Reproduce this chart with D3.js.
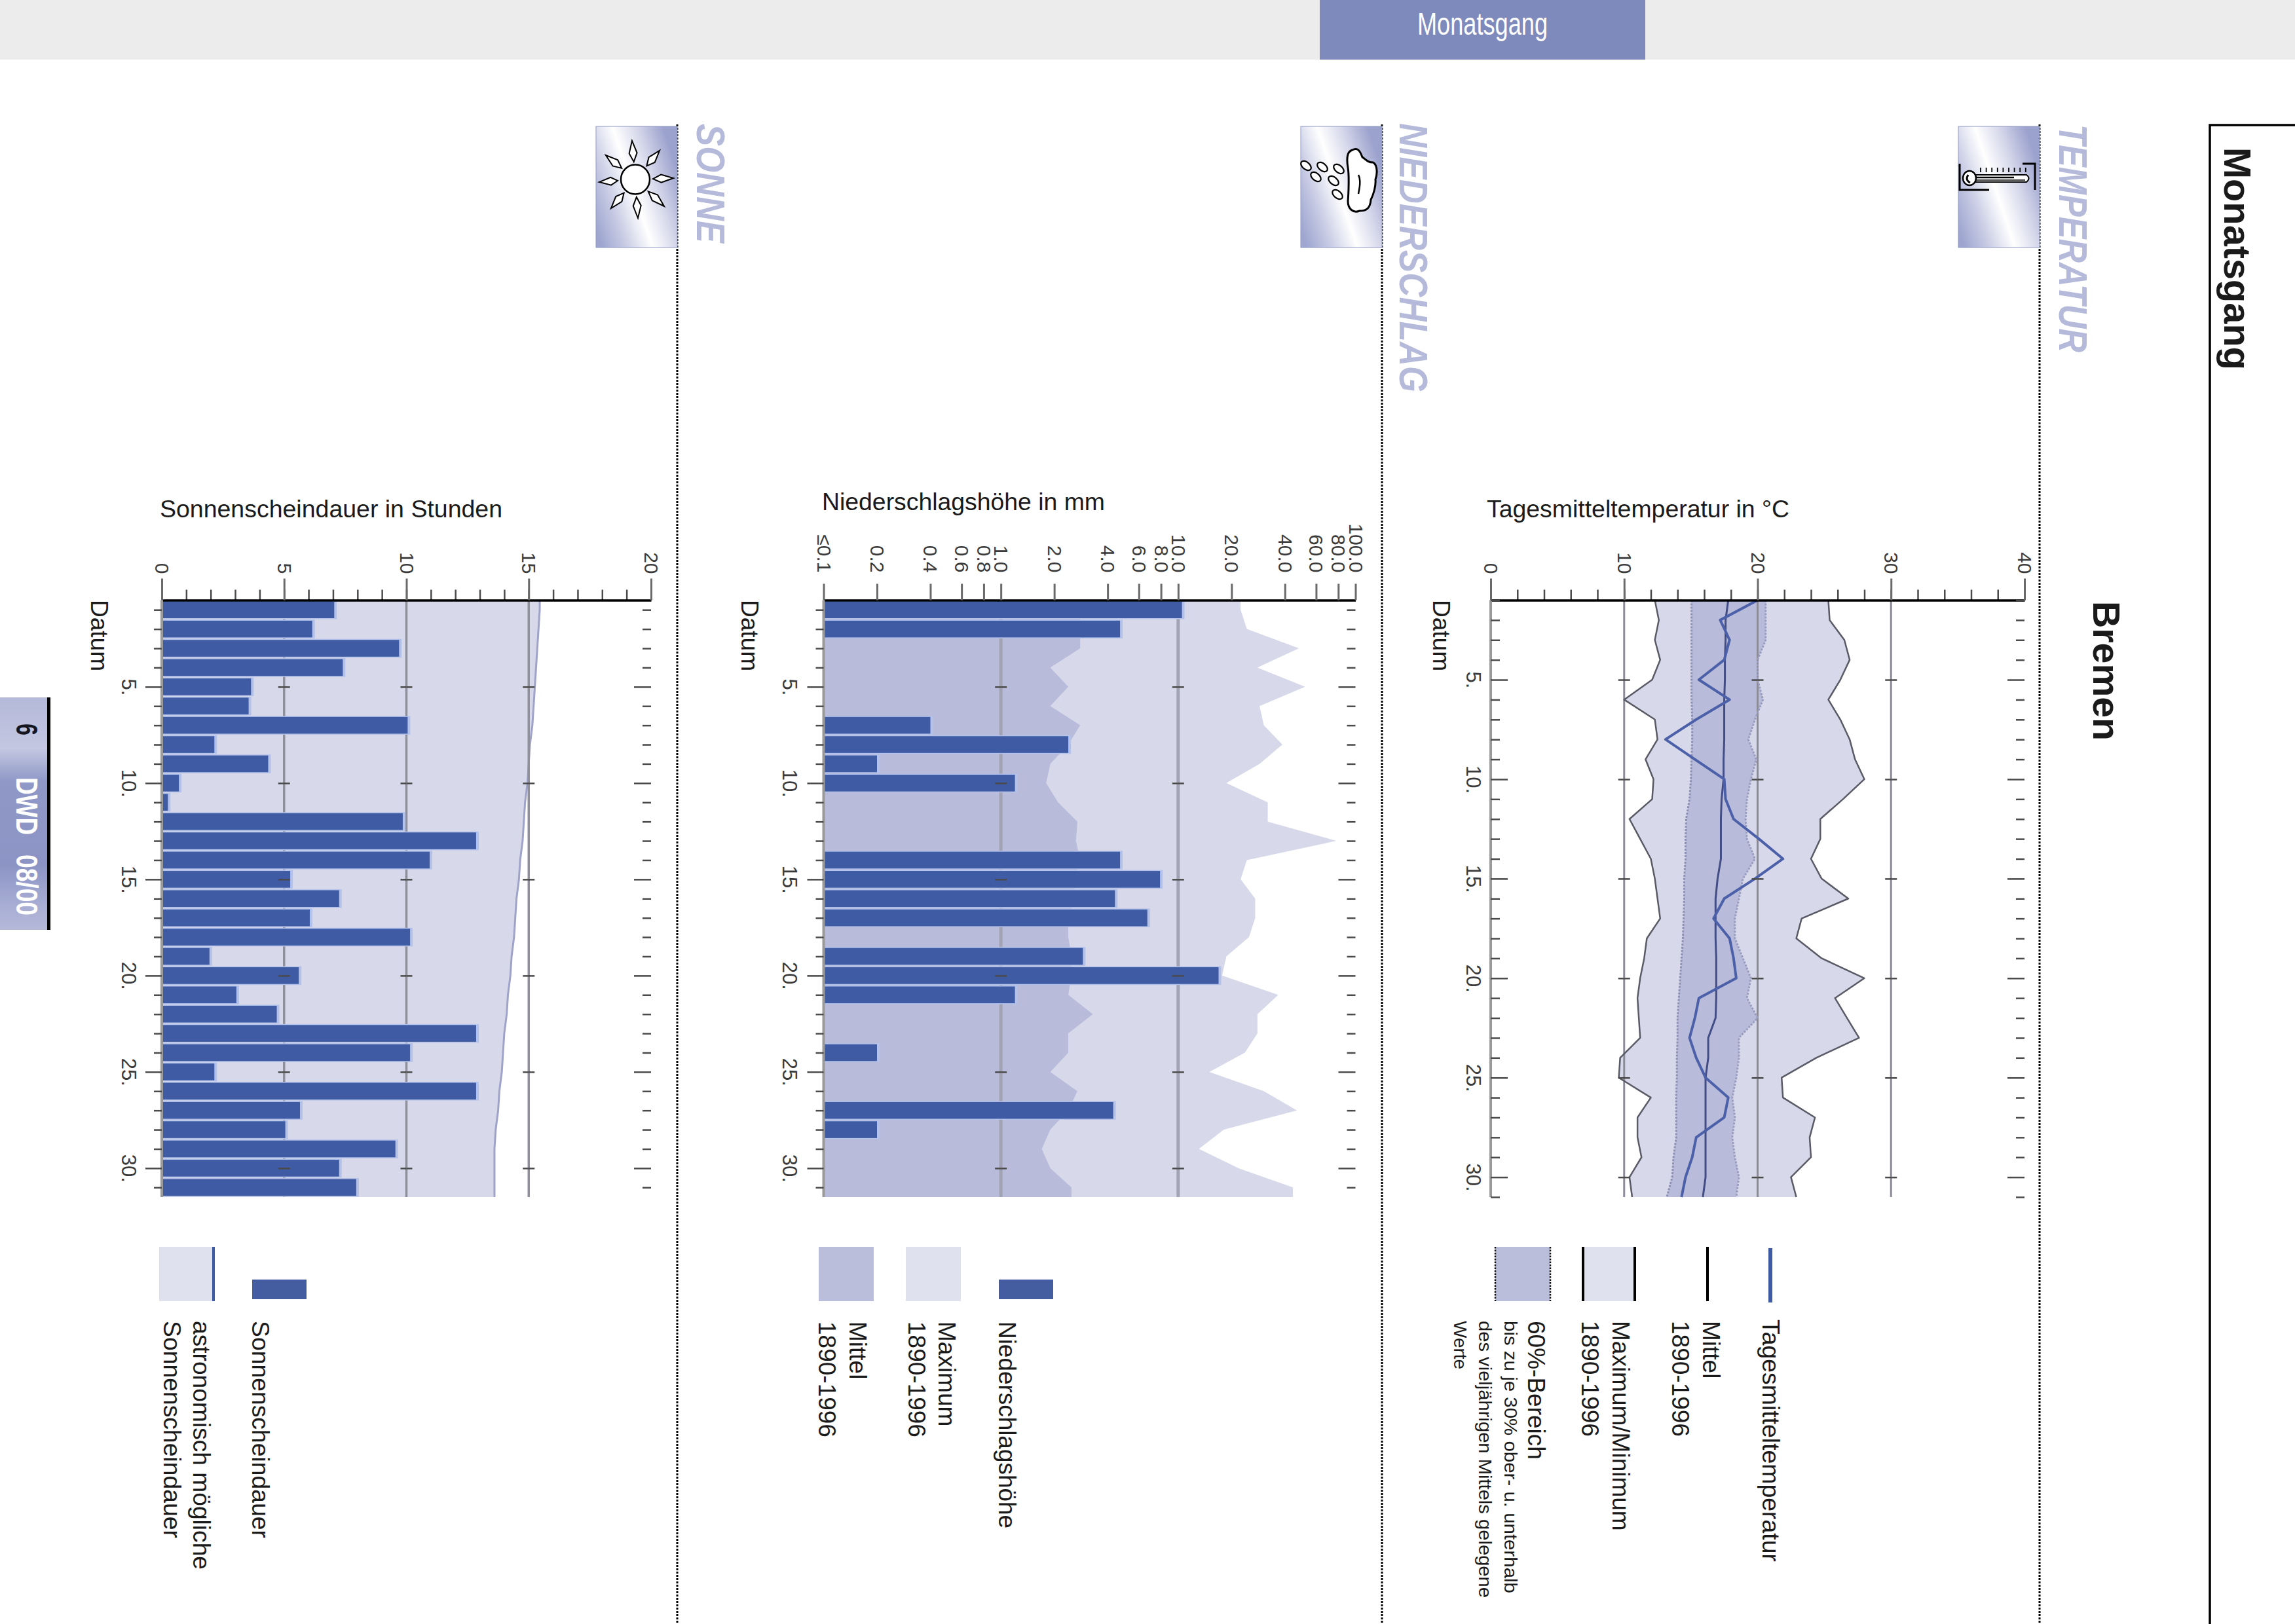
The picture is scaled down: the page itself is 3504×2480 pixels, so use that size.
<!DOCTYPE html>
<html>
<head>
<meta charset="utf-8">
<style>
  body { margin: 0; background: #fff; }
  svg { display: block; font-family: "Liberation Sans", Arial, sans-serif; }
</style>
<script src="https://cdn.jsdelivr.net/npm/d3@7"></script>
</head>
<body>
<div id="d3-container"></div>
<script>
const days = d3.range(1, 32);
const majorDays = [5, 10, 15, 20, 25, 30];

// temperature, degrees C per day
const tempMax = [25.3,25.4,26.5,26.9,26.2,25.3,26.2,26.9,27.3,28.0,26.4,24.7,24.7,24.0,24.8,26.8,23.3,22.9,24.8,28.0,25.8,26.7,27.6,24.4,21.8,21.9,24.3,23.9,24.0,22.5,22.9];
const tempMin = [12.3,12.6,12.3,12.7,12.1,10.0,12.3,12.5,11.6,12.2,12.1,10.4,11.2,12.0,12.3,12.5,12.7,11.7,11.5,11.2,11.0,11.1,11.2,9.7,9.6,12.0,11.0,11.0,11.3,10.4,10.6];
const tempMean = [17.8,17.6,17.6,17.55,17.55,17.5,17.5,17.5,17.45,17.45,17.3,17.25,17.25,17.25,17.0,16.85,16.85,16.85,16.9,16.9,16.9,16.85,16.3,16.3,16.1,16.1,16.1,16.1,16.1,16.1,15.9];
const tempDay = [20.0,17.2,17.9,17.5,15.6,17.9,15.4,13.1,15.3,17.5,17.6,18.2,20.1,21.9,19.8,17.5,16.7,17.9,18.2,18.4,15.6,15.3,14.9,15.4,16.1,17.8,17.5,15.4,15.1,14.6,14.3];
const tempBandLow = [15.05,15.05,15.05,15.05,15.05,15.05,15.1,15.1,15.05,15.0,14.9,14.65,14.6,14.6,14.5,14.5,14.45,14.4,14.3,14.2,14.1,14.0,14.0,13.95,13.95,13.9,13.9,13.9,13.7,13.6,13.2];
const tempBandHigh = [20.6,20.6,20.6,20.0,20.0,20.4,19.8,19.3,19.9,19.5,19.2,19.1,19.2,19.8,18.9,18.6,18.3,18.3,18.9,19.5,19.2,20.0,18.6,18.6,18.4,18.1,18.3,18.1,18.3,18.6,18.4];
const tempTicks = [0, 10, 20, 30, 40];
const tempMinorTicks = d3.range(0, 41, 2);
const tempGrid = [10, 20, 30];

// precipitation, mm per day
const rainMax = [22.5,24.4,48,28,52,28.8,30.4,38.7,28.8,18.7,32,32,78,24.4,22.5,27.2,27.2,25.1,18.7,17.7,36.7,28,28,23.8,15,30.4,46.8,18.1,13.1,21.9,44.4];
const rainMean = [2.8,2.8,2.8,1.9,2.4,1.9,2.8,2.4,1.9,1.8,2.1,2.7,2.65,2.8,2.6,2.6,2.4,2.4,2.5,2.5,2.4,3.3,2.4,2.4,1.9,2.7,2.4,1.9,1.7,1.9,2.5];
const rainDays = [1, 2, 7, 8, 9, 10, 14, 15, 16, 17, 19, 20, 21, 24, 27, 28];
const rainValues = [10.5, 4.7, 0.4, 2.4, 0.2, 1.2, 4.7, 7.9, 4.4, 6.7, 2.9, 16.9, 1.2, 0.2, 4.3, 0.2];
const rainTicks = [0.1, 0.2, 0.4, 0.6, 0.8, 1, 2, 4, 6, 8, 10, 20, 40, 60, 80, 100];
const rainGrid = [1, 10];

// sunshine, hours per day
const sunHours = [7.05,6.15,9.7,7.4,3.65,3.55,10.05,2.15,4.35,0.7,0.25,9.85,12.85,10.95,5.25,7.25,6.05,10.15,1.95,5.6,3.05,4.7,12.85,10.15,2.15,12.85,5.65,5.05,9.55,7.25,7.95];
const sunPossible = [15.45,15.4,15.35,15.3,15.25,15.2,15.15,15.05,15.0,14.95,14.85,14.8,14.75,14.65,14.6,14.5,14.45,14.4,14.3,14.25,14.15,14.1,14.0,13.95,13.9,13.8,13.75,13.65,13.6,13.6,13.6];
const sunTicks = [0, 5, 10, 15, 20];
const sunMinorTicks = d3.range(0, 21);
const sunGrid = [5, 10, 15];

const width = 3504;
const height = 2480;
const plotTop = 916.5;
const plotBottom = 1828;

const cBar = '#3e5ba4';
const cHalo = '#b4c2ea';
const cLight = '#d7d9ea';
const cDark = '#b8bcda';
const cLegLight = '#e0e1ef';
const cLegDark = '#bbbedb';
const cHead = '#b5bada';
const cText = '#1a1a1a';
const cTick = '#4a4a4a';

const svg = d3.select('#d3-container')
    .append('svg')
    .attr('width', width)
    .attr('height', height)
    .attr('viewBox', [0, 0, width, height]);

const defs = svg.append('defs');

const iconGrad = defs.append('linearGradient')
    .attr('id', 'iconGrad')
    .attr('x1', 0).attr('y1', 0.85)
    .attr('x2', 1).attr('y2', 0.35);
[[0, '#9ea6d0'], [0.22, '#c4c8e2'], [0.5, '#ffffff'], [0.72, '#d8daec'], [1, '#9ba2cd']]
    .forEach(s => iconGrad.append('stop').attr('offset', s[0]).attr('stop-color', s[1]));

const tabGrad = defs.append('linearGradient')
    .attr('id', 'tabGrad')
    .attr('x1', 0).attr('y1', 0)
    .attr('x2', 0).attr('y2', 1);
[[0, '#b4b9d9'], [0.22, '#c3c7e1'], [0.36, '#8f98c7'], [0.72, '#8c94c5'], [0.9, '#a8aed4'], [1, '#b5bad9']]
    .forEach(s => tabGrad.append('stop').attr('offset', s[0]).attr('stop-color', s[1]));

function vtext(x, y, str, size, opts = {}) {
    const t = svg.append('text')
        .attr('transform', `translate(${x},${y}) rotate(90)`)
        .attr('font-size', size)
        .attr('fill', opts.fill || cText)
        .attr('font-weight', opts.weight || 'normal')
        .attr('font-style', opts.style || 'normal')
        .text(str);
    if (opts.len) t.attr('textLength', opts.len).attr('lengthAdjust', 'spacingAndGlyphs');
    return t;
}

function htext(x, y, str, size, len) {
    return svg.append('text')
        .attr('x', x).attr('y', y)
        .attr('font-size', size)
        .attr('fill', cText)
        .attr('textLength', len)
        .attr('lengthAdjust', 'spacingAndGlyphs')
        .text(str);
}

// page furniture
svg.append('rect').attr('width', width).attr('height', 91).attr('fill', '#ececec');
svg.append('rect').attr('x', 2015).attr('width', 497).attr('height', 91).attr('fill', '#7e89bc');
svg.append('text')
    .attr('x', 2164).attr('y', 53)
    .attr('font-size', 48).attr('fill', '#fff')
    .attr('textLength', 199).attr('lengthAdjust', 'spacingAndGlyphs')
    .text('Monatsgang');

svg.append('path')
    .attr('d', `M3504,191H3374V${height}`)
    .attr('fill', 'none').attr('stroke', '#000').attr('stroke-width', 3.5);
vtext(3396, 225, 'Monatsgang', 58, { weight: 'bold', len: 340 });
vtext(3196, 918, 'Bremen', 58, { weight: 'bold', len: 213 });

[3114, 2110, 1034].forEach(x => {
    svg.append('line')
        .attr('x1', x).attr('x2', x)
        .attr('y1', 190).attr('y2', height)
        .attr('stroke', '#000')
        .attr('stroke-width', 3)
        .attr('stroke-dasharray', '3 2');
});

vtext(3144, 190, 'TEMPERATUR', 62, { weight: 'bold', style: 'italic', fill: cHead, len: 348 });
vtext(2137, 188, 'NIEDERSCHLAG', 62, { weight: 'bold', style: 'italic', fill: cHead, len: 411 });
vtext(1064, 189, 'SONNE', 62, { weight: 'bold', style: 'italic', fill: cHead, len: 182 });

svg.append('rect').attr('x', 0).attr('y', 1065).attr('width', 72).attr('height', 355).attr('fill', 'url(#tabGrad)');
svg.append('rect').attr('x', 72).attr('y', 1065).attr('width', 5).attr('height', 355).attr('fill', '#000');
vtext(25, 1105, '6', 46, { weight: 'bold', len: 18, fill: '#15151f' });
vtext(25, 1187, 'DWD', 46, { weight: 'bold', len: 88, fill: '#fff' });
vtext(25, 1305, '08/00', 46, { weight: 'bold', len: 93, fill: '#fff' });

// icons
function iconBox(x) {
    svg.append('rect')
        .attr('x', x).attr('y', 193)
        .attr('width', 124).attr('height', 185)
        .attr('fill', 'url(#iconGrad)')
        .attr('stroke', '#9299c2').attr('stroke-width', 1);
    return svg.append('g').attr('stroke', '#000').attr('fill', '#fff');
}

const thermo = iconBox(2990);
thermo.append('path').attr('d', 'M2992,250V290H3037M3088,250H3107V290').attr('fill', 'none').attr('stroke-width', 3);
thermo.append('path').attr('d', 'M3014,267H3094Q3101,272 3094,278H3014Z').attr('stroke-width', 2);
thermo.append('ellipse').attr('cx', 3007).attr('cy', 272).attr('rx', 10).attr('ry', 11).attr('stroke-width', 2.5);
thermo.append('path').attr('d', 'M3005,267Q3000,275 3008,279').attr('fill', 'none').attr('stroke-width', 3);
thermo.append('path').attr('d', 'M3016,271H3075').attr('stroke-width', 2.5);
thermo.append('path').attr('d', 'M3016,275H3092').attr('stroke-width', 1.5);
d3.range(9).forEach(i => {
    thermo.append('line')
        .attr('x1', 3024 + i * 8.6).attr('x2', 3024 + i * 8.6)
        .attr('y1', 256).attr('y2', 263)
        .attr('stroke-width', 1.8);
});

const sunIcon = iconBox(910);
[[965,215],[1007,230],[1028,272],[1014,315],[974,333],[933,318],[915,278],[925,237]].forEach(tip => {
    const dx = tip[0] - 970;
    const dy = tip[1] - 274;
    const r = Math.hypot(dx, dy);
    const ux = dx / r;
    const uy = dy / r;
    const sx = 970 + ux * 27;
    const sy = 274 + uy * 27;
    const mx = 970 + ux * (r * 0.68);
    const my = 274 + uy * (r * 0.68);
    sunIcon.append('path')
        .attr('d', `M${sx},${sy}L${mx - uy * 6},${my + ux * 6}L${tip[0]},${tip[1]}L${mx + uy * 6},${my - ux * 6}Z`)
        .attr('stroke-width', 2);
});
sunIcon.append('ellipse').attr('cx', 970).attr('cy', 274).attr('rx', 22).attr('ry', 22.5).attr('stroke-width', 2.5);

const rainIcon = iconBox(1986);
rainIcon.append('path')
    .attr('d', 'M2065,229C2056,231 2056,244 2058,256C2060,267 2059,296 2058,307C2058,319 2066,326 2076,322C2084,322 2092,320 2093,305C2097,297 2101,284 2100,274C2104,263 2102,250 2096,248C2088,248 2086,244 2080,240C2076,229 2072,225 2065,229Z')
    .attr('stroke-width', 3);
rainIcon.append('path').attr('d', 'M2074,267C2078,275 2076,286 2074,296').attr('fill', 'none').attr('stroke-width', 2.5);
[[1994,253],[2019,255],[2044,258],[2009,270],[2036,276],[2042,297]].forEach(p => {
    rainIcon.append('ellipse')
        .attr('cx', p[0]).attr('cy', p[1])
        .attr('rx', 9).attr('ry', 5.5)
        .attr('transform', `rotate(40,${p[0]},${p[1]})`)
        .attr('stroke-width', 2.2);
});

// shared axis drawing
function topAxis(x, labels, minor, bigLen, smallLen, labelEnd, format) {
    const g = svg.append('g').attr('transform', `translate(0,${plotTop})`);
    if (minor) {
        g.append('g')
            .call(d3.axisTop(x).tickValues(minor).tickSize(smallLen).tickFormat(''))
            .call(a => a.select('.domain').remove())
            .call(a => a.selectAll('line').attr('stroke', cTick).attr('stroke-width', 2.5));
    }
    g.append('g')
        .call(d3.axisTop(x).tickValues(labels).tickSize(bigLen).tickSizeOuter(0).tickFormat(format))
        .call(a => a.select('.domain').attr('stroke', '#000').attr('stroke-width', 3.5))
        .call(a => a.selectAll('line').attr('stroke', '#6a6a6a').attr('stroke-width', 3))
        .call(a => a.selectAll('text')
            .attr('transform', 'rotate(90)')
            .attr('x', -labelEnd).attr('y', 0).attr('dy', '0.35em')
            .attr('text-anchor', 'end')
            .attr('font-size', 30)
            .attr('font-family', 'Liberation Sans')
            .attr('fill', '#3a3a3a'));
}

function dayAxes(y, x0, x1, grid, x, inner, labelDx) {
    const minorDays = days.filter(d => !majorDays.includes(d));
    const left = svg.append('g').attr('transform', `translate(${x0},0)`);
    const leftAxis = inner ? d3.axisRight : d3.axisLeft;
    left.append('path')
        .attr('d', `M0,${plotTop}V${plotBottom}`)
        .attr('stroke', '#9a9a9a').attr('stroke-width', 4);
    left.append('g')
        .call(leftAxis(y).tickValues(minorDays).tickSize(inner ? 14 : 12).tickSizeOuter(0).tickFormat(''))
        .call(a => a.select('.domain').remove())
        .call(a => a.selectAll('line').attr('stroke', cTick).attr('stroke-width', 2.5));
    left.append('g')
        .call(leftAxis(y).tickValues(majorDays).tickSize(inner ? 26 : 25).tickFormat(d => d + '.'))
        .call(a => a.select('.domain').remove())
        .call(a => a.selectAll('line').attr('stroke', cTick).attr('stroke-width', 2.5))
        .call(a => a.selectAll('text')
            .attr('transform', `translate(${labelDx},0) rotate(90)`)
            .attr('x', 0).attr('y', 0).attr('dy', '0.35em')
            .attr('text-anchor', 'middle')
            .attr('font-size', 31)
            .attr('font-family', 'Liberation Sans')
            .attr('fill', '#3a3a3a'));

    const right = svg.append('g').attr('transform', `translate(${x1},0)`);
    right.append('g')
        .call(d3.axisLeft(y).tickValues(minorDays).tickSize(13).tickFormat(''))
        .call(a => a.select('.domain').remove())
        .call(a => a.selectAll('line').attr('stroke', cTick).attr('stroke-width', 2.5));
    right.append('g')
        .call(d3.axisLeft(y).tickValues(majorDays).tickSize(26).tickFormat(''))
        .call(a => a.select('.domain').remove())
        .call(a => a.selectAll('line').attr('stroke', cTick).attr('stroke-width', 2.5));

    grid.forEach(v => {
        const g = svg.append('g').attr('transform', `translate(${x(v)},0)`);
        [d3.axisLeft, d3.axisRight].forEach(side => {
            g.append('g')
                .call(side(y).tickValues(majorDays).tickSize(9).tickFormat(''))
                .call(a => a.select('.domain').remove())
                .call(a => a.selectAll('line').attr('stroke', cTick).attr('stroke-width', 2.5));
        });
    });
}

function gridLines(x, values, color, w) {
    svg.append('g')
        .selectAll('line')
        .data(values)
        .join('line')
        .attr('x1', d => x(d)).attr('x2', d => x(d))
        .attr('y1', plotTop).attr('y2', plotBottom)
        .attr('stroke', color)
        .attr('stroke-width', w);
}

// area rows for the band charts: first and last day run out to the plot edge
function edgeRows(yc, series) {
    const rows = days.map((d, i) => ({ y: yc(d), v: series[i] }));
    return [{ y: plotTop, v: series[0] }, ...rows, { y: plotBottom, v: series[30] }];
}

function drawBars(x, y, dayList, values) {
    const rows = dayList.map((d, i) => ({ d, v: values[i] }));
    svg.append('g')
        .attr('fill', cHalo)
        .selectAll('rect')
        .data(rows)
        .join('rect')
        .attr('x', x.range()[0])
        .attr('y', d => y(d.d) - 1.5)
        .attr('width', d => x(d.v) - x.range()[0] + 4)
        .attr('height', y.bandwidth() + 3);
    svg.append('g')
        .attr('fill', cBar)
        .selectAll('rect')
        .data(rows)
        .join('rect')
        .attr('x', x.range()[0])
        .attr('y', d => y(d.d))
        .attr('width', d => x(d.v) - x.range()[0])
        .attr('height', y.bandwidth());
}

// ---- temperature ----
const xT = d3.scaleLinear().domain([0, 40]).range([2276, 3091]);
const yT = d3.scalePoint().domain(days).range([plotTop, plotBottom]);

htext(2270, 790, 'Tagesmitteltemperatur in °C', 37, 462);

svg.append('path')
    .attr('fill', cLight)
    .attr('d', d3.area().x0((d, i) => xT(tempMin[i])).x1((d, i) => xT(tempMax[i])).y(d => yT(d))(days));
svg.append('path')
    .attr('fill', cDark)
    .attr('d', d3.area().x0((d, i) => xT(tempBandLow[i])).x1((d, i) => xT(tempBandHigh[i])).y(d => yT(d))(days));
gridLines(xT, tempGrid, '#8b8c98', 3);

function tempLine(series, color, w, dash) {
    const line = d3.line().x((d, i) => xT(series[i])).y(d => yT(d));
    const p = svg.append('path')
        .attr('fill', 'none')
        .attr('stroke', color)
        .attr('stroke-width', w)
        .attr('stroke-linejoin', 'round')
        .attr('d', line(days));
    if (dash) p.attr('stroke-dasharray', dash);
}
tempLine(tempMax, '#5a5a66', 2.5);
tempLine(tempMin, '#5a5a66', 2.5);
tempLine(tempBandLow, '#8d90b4', 3, '3 2');
tempLine(tempBandHigh, '#9a9dbf', 3, '3 2');
tempLine(tempMean, '#434d85', 3);
tempLine(tempDay, '#4b60a8', 4);

topAxis(xT, tempTicks, tempMinorTicks, 33, 16, 40, d3.format('d'));
dayAxes(yT, xT(0), xT(40), tempGrid, xT, true, -26);

// ---- precipitation ----
const xR = d3.scaleLog().domain([0.1, 100]).range([1257.5, 2069.5]);
const yR = d3.scaleBand().domain(days).range([plotTop, plotBottom]).paddingInner(0.13).paddingOuter(0.065);
const yRc = d3.scalePoint().domain(days).range([yR(1) + yR.bandwidth() / 2, yR(31) + yR.bandwidth() / 2]);

htext(1255, 779, 'Niederschlagshöhe in mm', 37, 432);

const rainArea = d3.area().x0(xR(0.1)).x1(d => xR(d.v)).y(d => d.y);
svg.append('path').attr('fill', cLight).attr('d', rainArea(edgeRows(yRc, rainMax)));
svg.append('path').attr('fill', cDark).attr('d', rainArea(edgeRows(yRc, rainMean)));
gridLines(xR, rainGrid, '#a2a3b5', 5);
drawBars(xR, yR, rainDays, rainValues);

const rainFormat = d => d === 0.1 ? '≤0.1' : d3.format('.1f')(d);
topAxis(xR, rainTicks, null, 25, 0, 42, rainFormat);
dayAxes(yRc, xR(0.1), xR(100), rainGrid, xR, false, -52);

// ---- sunshine ----
const xS = d3.scaleLinear().domain([0, 20]).range([247, 994]);
const yS = d3.scaleBand().domain(days).range([plotTop, plotBottom]).paddingInner(0.13).paddingOuter(0.065);
const ySc = d3.scalePoint().domain(days).range([yS(1) + yS.bandwidth() / 2, yS(31) + yS.bandwidth() / 2]);

htext(244, 790, 'Sonnenscheindauer in Stunden', 37, 523);

const sunRows = edgeRows(ySc, sunPossible);
svg.append('path')
    .attr('fill', cLight)
    .attr('d', d3.area().x0(xS(0)).x1(d => xS(d.v)).y(d => d.y)(sunRows));
svg.append('path')
    .attr('fill', 'none')
    .attr('stroke', '#9fa3c9')
    .attr('stroke-width', 3)
    .attr('d', d3.line().x(d => xS(d.v)).y(d => d.y)(sunRows));
gridLines(xS, sunGrid, '#8f909c', 3.5);
drawBars(xS, yS, days, sunHours);

topAxis(xS, sunTicks, sunMinorTicks, 33, 16, 40, d3.format('d'));
dayAxes(ySc, xS(0), xS(20), sunGrid, xS, false, -50);

// datum labels
[2188, 1132, 139].forEach(x => vtext(x, 916, 'Datum', 37));

// ---- legends ----
function legendBox(x, w, y, h, color) {
    svg.append('rect').attr('x', x).attr('y', y).attr('width', w).attr('height', h).attr('fill', color);
}

legendBox(2700, 6, 1906, 83, cBar);
legendBox(2605, 4, 1904, 83, '#000');
legendBox(2415, 83, 1904, 83, cLegLight);
legendBox(2415, 4, 1904, 83, '#000');
legendBox(2494, 4, 1904, 83, '#000');
legendBox(2283, 84, 1904, 83, cLegDark);
[2283, 2367].forEach(x => {
    svg.append('line')
        .attr('x1', x).attr('x2', x).attr('y1', 1904).attr('y2', 1987)
        .attr('stroke', '#111').attr('stroke-width', 2.5).attr('stroke-dasharray', '2.5 2');
});
vtext(2691, 2015, 'Tagesmitteltemperatur', 37, { len: 370 });
vtext(2600, 2017, 'Mittel', 37);
vtext(2553, 2017, '1890-1996', 37);
vtext(2462, 2017, 'Maximum/Minimum', 37);
vtext(2415, 2017, '1890-1996', 37);
vtext(2333, 2017, '60%-Bereich', 37);
vtext(2297, 2017, 'bis zu je 30% ober- u. unterhalb', 28, { len: 416 });
vtext(2258, 2017, 'des vieljährigen Mittels gelegene', 28, { len: 423 });
vtext(2220, 2017, 'Werte', 28);

legendBox(1525, 83, 1954, 30, '#445da0');
legendBox(1383, 84, 1904, 83, cLegLight);
legendBox(1250, 84, 1904, 83, cLegDark);
vtext(1525, 2018, 'Niederschlagshöhe', 37, { len: 316 });
vtext(1433, 2018, 'Maximum', 37);
vtext(1387, 2018, '1890-1996', 37);
vtext(1297, 2018, 'Mittel', 37);
vtext(1250, 2018, '1890-1996', 37);

legendBox(385, 83, 1954, 30, '#445da0');
legendBox(243, 81, 1904, 83, cLegLight);
legendBox(324, 4, 1904, 83, cBar);
vtext(385, 2017, 'Sonnenscheindauer', 37, { len: 332 });
vtext(295, 2017, 'astronomisch mögliche', 37, { len: 380 });
vtext(250, 2017, 'Sonnenscheindauer', 37, { len: 332 });
</script>
</body>
</html>
